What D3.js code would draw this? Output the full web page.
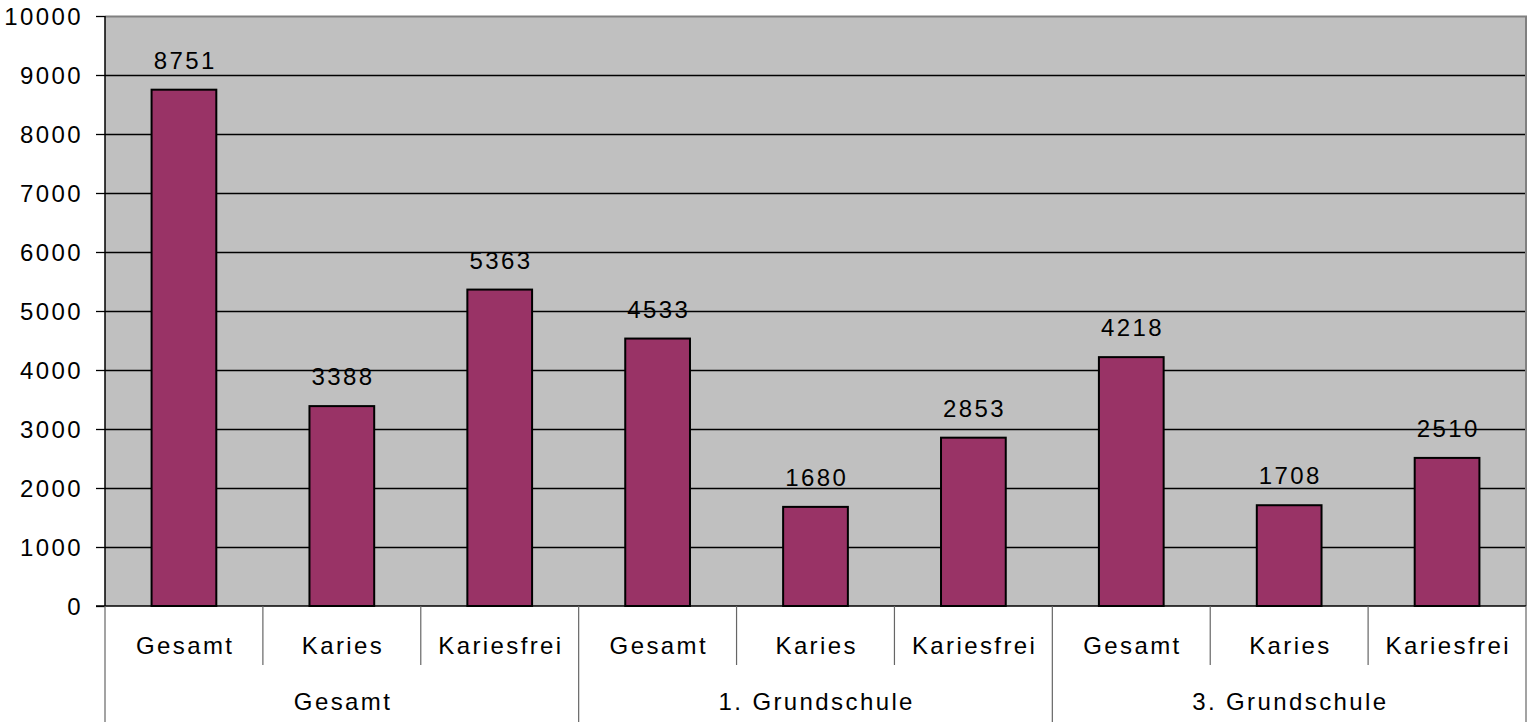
<!DOCTYPE html>
<html><head><meta charset="utf-8">
<script src="https://cdn.jsdelivr.net/npm/d3@7/dist/d3.min.js"></script>
<style>body{margin:0;background:#fff;} text{font-family:"Liberation Sans",Arial,sans-serif;fill:#000;}</style>
</head><body>
<svg id="c" width="1529" height="727"></svg>
<script>
const categories = ["Gesamt","Karies","Kariesfrei","Gesamt","Karies","Kariesfrei","Gesamt","Karies","Kariesfrei"];
const groups = ["Gesamt","1. Grundschule","3. Grundschule"];
const values = [8751,3388,5363,4533,1680,2853,4218,1708,2510];
const yTicks = [0,1000,2000,3000,4000,5000,6000,7000,8000,9000,10000];

const svg = d3.select("#c");
const L=105, R=1526, T=16, B=606;
const x = d3.scaleBand().domain(d3.range(categories.length)).range([L,R]).paddingInner(0).paddingOuter(0);
const y = d3.scaleLinear().domain([0,10000]).range([B,T]);
const fs = 24, ls = 2.4;

svg.append("rect").attr("x",L).attr("y",T).attr("width",R-L).attr("height",B-T).attr("fill","#c0c0c0");
// gridlines
svg.append("g").selectAll("line").data(yTicks.filter(d=>d>0 && d<10000)).join("line")
  .attr("x1",L).attr("x2",R).attr("y1",d=>Math.round(y(d))+0.5).attr("y2",d=>Math.round(y(d))+0.5)
  .attr("stroke","#000").attr("stroke-width",1.3);
// plot border top/right gray
svg.append("path").attr("d",`M${L},${T+0.5}H${R}V${B}`).attr("fill","none").attr("stroke","#808080").attr("stroke-width",2);

// bars
const bw = x.bandwidth()*0.41;
svg.append("g").selectAll("rect").data(values).join("rect")
  .attr("x",(d,i)=>x(i)+x.bandwidth()/2-bw/2).attr("width",bw)
  .attr("y",d=>y(d)).attr("height",d=>B-y(d))
  .attr("fill","#993366").attr("stroke","#000").attr("stroke-width",2);
// value labels
svg.append("g").selectAll("text").data(values).join("text")
  .attr("x",(d,i)=>x(i)+x.bandwidth()/2+ls/2).attr("y",d=>y(d)-21)
  .attr("text-anchor","middle").attr("font-size",fs).attr("letter-spacing",ls).text(d=>d);

// y axis
const ya = d3.axisLeft(y).tickValues(yTicks).tickSize(9).tickPadding(13).tickFormat(d3.format("d"));
const yg = svg.append("g").attr("transform",`translate(${L},0)`).call(ya);
yg.select(".domain").attr("stroke","#000").attr("stroke-width",1.5).attr("d",`M0,${T}V${B}`);
yg.selectAll(".tick line").attr("stroke","#000").attr("stroke-width",1.3);
yg.selectAll(".tick text").attr("font-size",fs).attr("letter-spacing",ls).attr("font-family","Liberation Sans, Arial, sans-serif").attr("fill","#000").attr("dy","0.36em");

// x axis line
svg.append("line").attr("x1",L-9).attr("x2",R).attr("y1",B).attr("y2",B).attr("stroke","#000").attr("stroke-width",1.5);
// category separators
svg.append("g").selectAll("line").data(d3.range(1,categories.length).filter(i=>i%3!==0)).join("line")
  .attr("x1",i=>x(i)).attr("x2",i=>x(i)).attr("y1",B).attr("y2",665).attr("stroke","#666").attr("stroke-width",1.2);
svg.append("g").selectAll("line").data([0,3,6,9]).join("line")
  .attr("x1",i=>i===9?R:x(i)).attr("x2",i=>i===9?R:x(i)).attr("y1",B).attr("y2",722).attr("stroke","#666").attr("stroke-width",1.2);
// category labels
svg.append("g").selectAll("text").data(categories).join("text")
  .attr("x",(d,i)=>x(i)+x.bandwidth()/2+ls/2).attr("y",654)
  .attr("text-anchor","middle").attr("font-size",fs).attr("letter-spacing",ls).text(d=>d);
// group labels
svg.append("g").selectAll("text").data(groups).join("text")
  .attr("x",(d,i)=>(x(i*3)+ (i===2?R:x(i*3+3)))/2+ls/2).attr("y",710)
  .attr("text-anchor","middle").attr("font-size",fs).attr("letter-spacing",ls).text(d=>d);
</script>
</body></html>
